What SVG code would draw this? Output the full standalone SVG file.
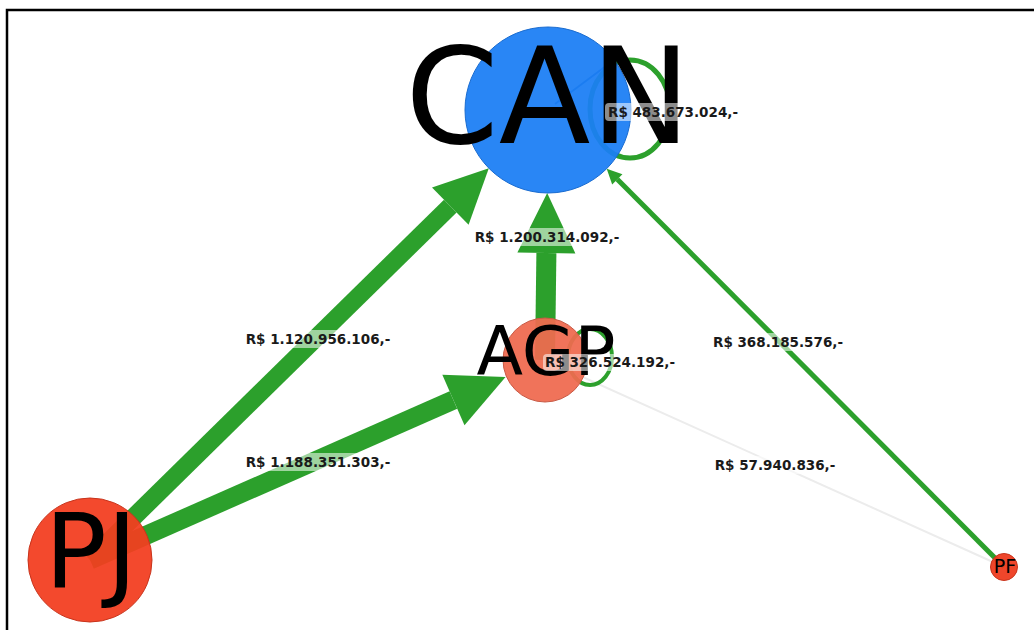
<svg xmlns="http://www.w3.org/2000/svg" width="1034" height="630" viewBox="0 0 1034 630">
  <style>
    .edge { stroke: #2ca02c; fill: none; stroke-linecap: butt; }
    .loop { stroke: #2ca02c; fill: none; }
    .faint { stroke: #ececec; fill: none; stroke-width: 2; }
    .node { fill-opacity: 0.94; stroke-width: 1; }
    .nlabel { font-family: "DejaVu Sans", "Liberation Sans", sans-serif; fill: #000; text-anchor: middle; }
    .elabel { font-family: "DejaVu Sans", "Liberation Sans", sans-serif; font-weight: bold; font-size: 13.5px; fill: #1a1a1a; text-anchor: middle; }
    .lbox { fill: #ffffff; fill-opacity: 0.55; }
  </style>
  <defs>
    <marker id="arrow" markerUnits="strokeWidth" markerWidth="3" markerHeight="2.9" refX="0" refY="1.45" orient="auto" overflow="visible">
      <path d="M0,0 L3,1.45 L0,2.9 Z" fill="#2ca02c"/>
    </marker>
  </defs>
  <rect x="0" y="0" width="1034" height="630" fill="#ffffff"/>
  <path d="M7,630 V10 H1034" fill="none" stroke="#000" stroke-width="2.5"/>

  <g id="connectors">
    <line class="faint" x1="1004" y1="567" x2="545" y2="360"/>
    <path class="edge" d="M90,560 L450.3,206.1" stroke-width="18" marker-end="url(#arrow)"/>
    <path class="edge" d="M90,560 L453.4,400" stroke-width="19" marker-end="url(#arrow)"/>
    <path class="edge" d="M545,360 L546.4,253" stroke-width="20" marker-end="url(#arrow)"/>
    <path class="edge" d="M1004,567 L617.3,179.3" stroke-width="5" marker-end="url(#arrow)"/>
    <ellipse class="loop" cx="630" cy="109" rx="40" ry="49" stroke-width="5"/>
    <line x1="555" y1="104" x2="610" y2="63" stroke="#1a5fb0" stroke-width="2"/>
    <ellipse class="loop" cx="590" cy="357" rx="22" ry="28" stroke-width="4"/>
  </g>

  <g id="node-CAN">
    <circle class="node" cx="548" cy="110" r="83" fill="#1c7ef4" stroke="#1a6cd0"/>
    <text class="nlabel" x="548" y="143" font-size="134">CAN</text>
  </g>
  <g id="node-AGP">
    <circle class="node" cx="545" cy="360" r="42" fill="#ef6a50" stroke="#c85a45"/>
    <text class="nlabel" x="546" y="375" font-size="68">AGP</text>
  </g>
  <g id="node-PJ">
    <circle class="node" cx="90" cy="560" r="62" fill="#f23e20" stroke="#c8341c"/>
    <text class="nlabel" x="91" y="587" font-size="103">PJ</text>
  </g>
  <g id="node-PF">
    <circle class="node" cx="1004" cy="567" r="13.5" fill="#ee3a1e" stroke="#c8341c"/>
    <text class="nlabel" x="1005" y="573" font-size="19">PF</text>
  </g>

  <g id="edge-labels">
    <rect class="lbox" x="242" y="330" width="153" height="18" rx="4"/>
    <text class="elabel" x="318" y="344">R$ 1.120.956.106,-</text>
    <rect class="lbox" x="242" y="453" width="153" height="18" rx="4"/>
    <text class="elabel" x="318" y="467">R$ 1.188.351.303,-</text>
    <rect class="lbox" x="471" y="228" width="153" height="18" rx="4"/>
    <text class="elabel" x="547" y="242">R$ 1.200.314.092,-</text>
    <rect class="lbox" x="543" y="354" width="135" height="17" rx="4"/>
    <text class="elabel" x="610" y="367">R$ 326.524.192,-</text>
    <rect class="lbox" x="709" y="333" width="138" height="18" rx="4"/>
    <text class="elabel" x="778" y="347">R$ 368.185.576,-</text>
    <rect class="lbox" x="712" y="456" width="126" height="18" rx="4"/>
    <text class="elabel" x="775" y="470">R$ 57.940.836,-</text>
    <rect class="lbox" x="605" y="103" width="137" height="18" rx="4"/>
    <text class="elabel" x="673" y="117">R$ 483.673.024,-</text>
  </g>
</svg>
